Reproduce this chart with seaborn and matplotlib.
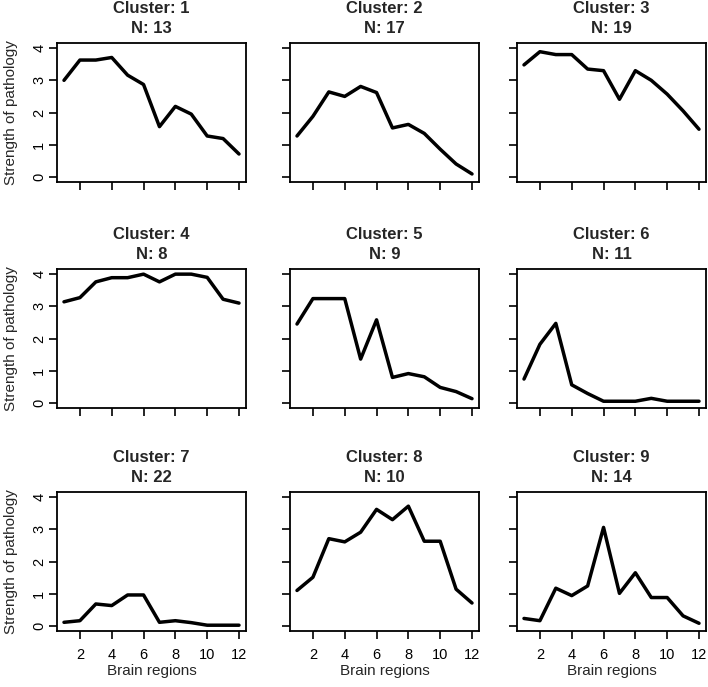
import matplotlib
matplotlib.use("Agg")
import matplotlib.pyplot as plt
import seaborn as sns
import pandas as pd

sns.set_theme(style="white")
plt.rcParams["font.family"] = ["Liberation Sans", "DejaVu Sans"]

# pathology strength per brain region (1..12), one list per cluster
regions = list(range(1, 13))
cluster_ids = [1, 2, 3, 4, 5, 6, 7, 8, 9]
cluster_n = [13, 17, 19, 8, 9, 11, 22, 10, 14]
c1 = [3.00, 3.63, 3.63, 3.71, 3.16, 2.87, 1.56, 2.19, 1.95, 1.27, 1.19, 0.71]
c2 = [1.27, 1.88, 2.64, 2.50, 2.81, 2.62, 1.52, 1.63, 1.35, 0.86, 0.40, 0.09]
c3 = [3.48, 3.89, 3.80, 3.80, 3.35, 3.30, 2.41, 3.30, 3.00, 2.57, 2.05, 1.48]
c4 = [3.14, 3.27, 3.76, 3.89, 3.89, 4.00, 3.76, 4.00, 4.00, 3.90, 3.22, 3.10]
c5 = [2.45, 3.24, 3.24, 3.24, 1.36, 2.58, 0.79, 0.91, 0.81, 0.48, 0.35, 0.13]
c6 = [0.74, 1.82, 2.47, 0.56, 0.29, 0.05, 0.05, 0.05, 0.14, 0.05, 0.05, 0.05]
c7 = [0.11, 0.16, 0.68, 0.63, 0.96, 0.96, 0.11, 0.16, 0.10, 0.02, 0.02, 0.02]
c8 = [1.10, 1.51, 2.71, 2.61, 2.91, 3.62, 3.30, 3.72, 2.63, 2.63, 1.14, 0.71]
c9 = [0.23, 0.16, 1.17, 0.94, 1.24, 3.06, 1.01, 1.65, 0.88, 0.88, 0.31, 0.08]
series = [c1, c2, c3, c4, c5, c6, c7, c8, c9]

W, H = 708, 687
col_left = [57, 290, 517]
row_top = [43, 269, 492]
pw, ph = 189, 139

fig = plt.figure(figsize=(W / 100, H / 100), dpi=100)

for i, (cid, n, vals) in enumerate(zip(cluster_ids, cluster_n, series)):
    r, c = divmod(i, 3)
    ax = fig.add_axes([col_left[c] / W, (H - row_top[r] - ph) / H, pw / W, ph / H])
    df = pd.DataFrame({"region": regions, "strength": vals})
    sns.lineplot(data=df, x="region", y="strength", ax=ax, color="black", lw=2.5)
    ax.set_xlim(0.56, 12.44)
    ax.set_ylim(-0.16, 4.16)
    ax.set_xticks([2, 4, 6, 8, 10, 12])
    ax.set_yticks([0, 1, 2, 3, 4])
    for s in ax.spines.values():
        s.set_linewidth(1.3)
        s.set_color("black")
    ax.tick_params(direction="out", length=5.8, width=1.2, color="black",
                   labelsize=10.5, labelcolor="black")
    ax.tick_params(axis="x", pad=6.5, bottom=True, labelbottom=(r == 2))
    ax.tick_params(axis="y", pad=2, left=True, labelleft=(c == 0), labelrotation=90)
    for lab in ax.get_yticklabels():
        lab.set_va("center")
    ax.set_title(f"Cluster: {cid}\nN: {n}", fontsize=12, fontweight="bold", pad=7,
                 linespacing=1.4)
    if c == 0:
        ax.set_ylabel("Strength of pathology", fontsize=11)
        ax.yaxis.set_label_coords(-0.205, 0.5)
    else:
        ax.set_ylabel("")
    if r == 2:
        ax.set_xlabel("Brain regions", fontsize=11)
        ax.xaxis.set_label_coords(0.5, -0.238)
    else:
        ax.set_xlabel("")

fig.savefig("out.png", dpi=100)
